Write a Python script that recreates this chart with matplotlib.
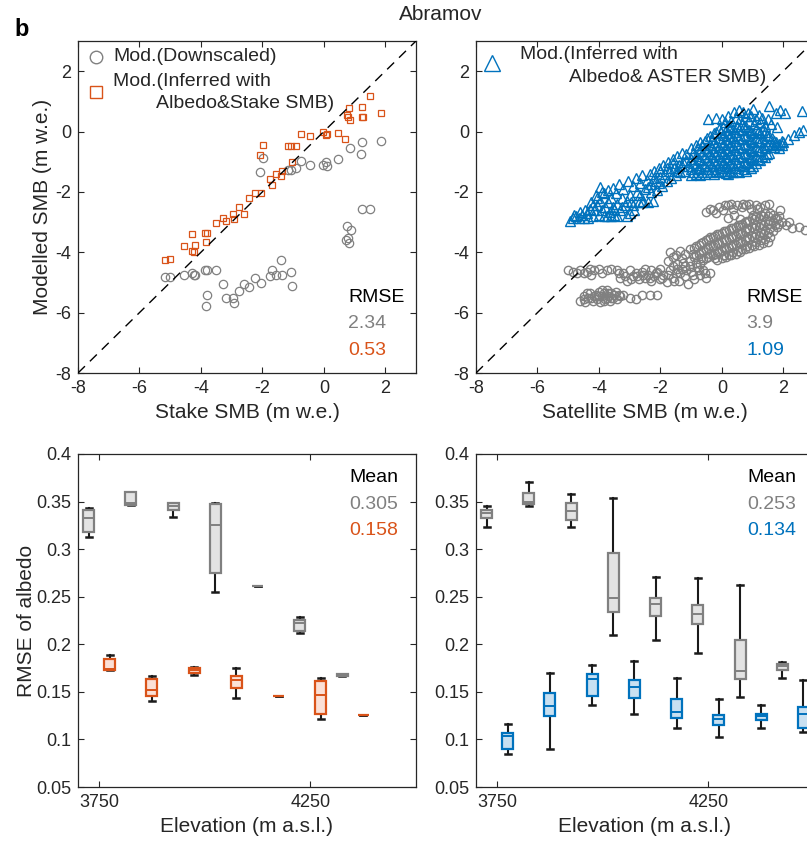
import numpy as np
import matplotlib.pyplot as plt
from matplotlib.ticker import FuncFormatter

plt.rcParams['font.family'] = ['Liberation Sans', 'DejaVu Sans']
plt.rcParams['axes.unicode_minus'] = False

GRAY = '#808080'
ORANGE = '#D95319'
BLUE = '#0072BD'
INK = '#262626'

########################## Stake SMB vs modelled ##########################
stake_x_down = [-5.18, -5.02, -4.56, -4.28, -4.23, -4.20, -3.88, -3.79, -3.51, -3.79,
                -3.85, -3.27, -3.17, -2.96, -2.93, -2.75, -2.59, -2.44, -2.23, -2.04,
                -1.74, -1.68, -1.55, -1.39, -1.37, -1.08, -1.03, -2.09, -1.97, -1.17,
                -1.06, -0.90, -0.75, -0.46, -0.04, 0.07, 0.11, 0.47, 0.85, 1.23,
                1.21, 1.87, 0.74, 0.80, 0.89, 0.71, 0.82, 1.23, 1.51]
stake_y_down = [-4.81, -4.81, -4.75, -4.70, -4.75, -4.76, -4.59, -4.59, -4.59, -5.41,
                -5.77, -5.05, -5.51, -5.51, -5.68, -5.27, -5.05, -5.14, -4.84, -5.02,
                -4.78, -4.58, -4.75, -4.26, -4.75, -4.65, -5.11, -1.35, -0.88, -1.26,
                -1.26, -1.21, -0.96, -1.10, -1.10, -1.02, -1.13, -0.90, -0.53, -0.36,
                -0.74, -0.30, -3.13, -3.52, -3.27, -3.59, -3.68, -2.55, -2.58]
stake_x_inf = [-5.18, -5.02, -4.56, -4.28, -4.28, -4.23, -4.20, -3.88, -3.79, -3.85,
               -3.51, -3.27, -3.17, -2.96, -2.93, -2.75, -2.59, -2.44, -2.23, -2.04,
               -2.09, -1.97, -1.74, -1.68, -1.55, -1.39, -1.37, -1.17, -1.06, -0.90,
               -1.03, -0.75, -0.46, -0.04, 0.07, 0.11, 0.47, 0.69, 0.74, 0.80,
               0.83, 0.86, 1.23, 1.23, 1.29, 1.51, 1.87]
stake_y_inf = [-4.26, -4.23, -3.79, -3.38, -3.96, -3.99, -3.77, -3.37, -3.37, -3.66,
               -3.03, -2.88, -2.97, -2.73, -2.89, -2.49, -2.73, -2.21, -2.05, -2.03,
               -0.77, -0.44, -1.57, -1.78, -1.40, -1.46, -1.30, -0.49, -0.49, -0.49,
               -1.01, -0.08, -0.16, -0.01, -0.11, -0.08, -0.05, -0.25, 0.55, 0.47,
               0.77, 0.38, 0.82, 0.47, 0.49, 1.18, 0.60]

######################## Satellite SMB vs modelled ########################
sat_down = [
    # lowest group
    (-4.6, -5.6), (-4.5, -5.45), (-4.45, -5.65), (-4.35, -5.5), (-4.3, -5.35), (-4.2, -5.6),
    (-4.15, -5.45), (-4.05, -5.55), (-4.0, -5.3), (-3.95, -5.65), (-3.9, -5.45), (-3.85, -5.35),
    (-3.8, -5.55), (-3.75, -5.25), (-3.7, -5.45), (-3.65, -5.6), (-3.6, -5.35), (-3.55, -5.5),
    (-3.5, -5.4), (-3.4, -5.55), (-3.3, -5.45), (-3.2, -5.4), (-3.0, -5.5), (-2.8, -5.55),
    (-2.6, -5.4), (-2.35, -5.4), (-2.1, -5.4), (-3.45, -5.3), (-3.85, -5.6), (-4.25, -5.5),
    (-4.4, -5.35), (-4.1, -5.4), (-3.9, -5.25), (-3.75, -5.5), (-3.6, -5.5), (-3.35, -5.4),
    (-4.0, -5.45), (-4.5, -5.55), (-3.7, -5.35),
    # left band
    (-5.0, -4.6), (-4.85, -4.65), (-4.7, -4.7), (-4.6, -4.6), (-4.5, -4.7), (-4.4, -4.65),
    (-4.25, -4.75), (-4.15, -4.6), (-4.0, -4.55), (-3.9, -4.7), (-3.75, -4.6), (-3.6, -4.55),
    (-4.3, -4.55),
    # middle band
    (-3.4, -4.6), (-3.3, -4.85), (-3.2, -4.7), (-3.1, -4.95), (-3.0, -4.6), (-2.9, -4.8),
    (-2.8, -4.7), (-2.7, -4.9), (-2.6, -4.65), (-2.5, -4.85), (-2.4, -4.75), (-2.3, -4.95),
    (-2.2, -4.8), (-2.1, -4.65), (-2.0, -4.9), (-1.9, -4.75), (-1.8, -5.0), (-1.7, -4.6),
    (-1.6, -4.85), (-1.5, -4.7), (-1.4, -4.95), (-1.3, -4.55), (-1.2, -4.8), (-1.1, -5.05),
    (-1.0, -4.65), (-0.9, -4.9), (-0.8, -4.5), (-0.7, -4.75), (-0.6, -4.6), (-0.5, -4.85),
    (-0.4, -4.7), (-1.75, -4.3), (-1.6, -4.15), (-1.45, -4.4), (-1.3, -4.2), (-1.2, -4.45),
    (-1.05, -4.3), (-0.95, -4.05), (-2.5, -4.55), (-2.3, -4.6), (-2.0, -4.55),
    (-3.35, -4.7), (-3.15, -4.8), (-2.95, -4.9), (-2.75, -4.8), (-2.55, -4.75), (-2.35, -4.85),
    (-2.15, -4.7), (-1.95, -4.85), (-1.75, -4.75), (-1.55, -4.95), (-1.35, -4.7), (-1.15, -4.6),
    (-0.95, -4.75), (-0.75, -4.6), (-0.55, -4.7), (-1.45, -4.55), (-1.05, -4.45), (-0.85, -4.35),
    (-0.7, -4.4), (-1.6, -4.45), (-1.25, -4.35),
    # main cloud
    (-1.7, -4.0), (-1.5, -4.1), (-1.35, -3.95), (-1.2, -4.05), (-1.05, -3.9), (-0.9, -3.85),
    (-0.9, -4.15), (-0.75, -3.75), (-0.75, -4.05), (-0.6, -3.65), (-0.6, -3.95), (-0.6, -4.25),
    (-0.45, -3.55), (-0.45, -3.85), (-0.45, -4.15), (-0.3, -3.5), (-0.3, -3.8), (-0.3, -4.1),
    (-0.15, -3.4), (-0.15, -3.7), (-0.15, -4.0), (-0.15, -4.25), (0.0, -3.35), (0.0, -3.65),
    (0.0, -3.95), (0.0, -4.2), (0.15, -3.3), (0.15, -3.6), (0.15, -3.9), (0.15, -4.15),
    (0.3, -3.2), (0.3, -3.5), (0.3, -3.8), (0.3, -4.1), (0.45, -3.15), (0.45, -3.45),
    (0.45, -3.75), (0.45, -4.05), (0.6, -3.1), (0.6, -3.4), (0.6, -3.7), (0.6, -4.0),
    (0.75, -3.0), (0.75, -3.3), (0.75, -3.6), (0.75, -3.9), (0.9, -2.95), (0.9, -3.25),
    (0.9, -3.55), (0.9, -3.85), (1.05, -2.9), (1.05, -3.2), (1.05, -3.5), (1.05, -3.8),
    (1.2, -2.85), (1.2, -3.15), (1.2, -3.45), (1.2, -3.75), (1.35, -2.8), (1.35, -3.1),
    (1.35, -3.4), (1.35, -3.7), (1.5, -2.8), (1.5, -3.05), (1.5, -3.35), (1.5, -3.65),
    (1.65, -2.75), (1.65, -3.0), (1.65, -3.3), (1.8, -2.9), (1.8, -3.15), (1.95, -3.0),
    (2.1, -3.1), (2.3, -3.2), (2.5, -3.15), (2.7, -3.25), (2.2, -3.0), (1.9, -2.6),
    (-0.83, -3.8), (-0.83, -4.1), (-0.68, -3.7), (-0.68, -4.0), (-0.68, -4.2), (-0.53, -3.6),
    (-0.53, -3.9), (-0.53, -4.2), (-0.38, -3.5), (-0.38, -3.75), (-0.38, -4.05), (-0.23, -3.45),
    (-0.23, -3.75), (-0.23, -4.05), (-0.23, -4.2), (-0.08, -3.4), (-0.08, -3.7), (-0.08, -4.0),
    (0.07, -3.3), (0.07, -3.55), (0.07, -3.85), (0.07, -4.1), (0.22, -3.25), (0.22, -3.55),
    (0.22, -3.85), (0.22, -4.1), (0.37, -3.2), (0.37, -3.45), (0.37, -3.75), (0.37, -4.0),
    (0.52, -3.1), (0.52, -3.35), (0.52, -3.65), (0.52, -3.95), (0.67, -3.05), (0.67, -3.35),
    (0.67, -3.65), (0.67, -3.9), (0.82, -2.95), (0.82, -3.2), (0.82, -3.5), (0.82, -3.8),
    (0.97, -2.85), (0.97, -3.15), (0.97, -3.45), (0.97, -3.75), (1.12, -2.8), (1.12, -3.1),
    (1.12, -3.4), (1.12, -3.65), (1.27, -2.75), (1.27, -3.05), (1.27, -3.35), (1.27, -3.6),
    (1.42, -2.7), (1.42, -2.95), (1.42, -3.25), (1.42, -3.55), (1.57, -2.7), (1.57, -2.95),
    (1.57, -3.2), (1.57, -3.5), (1.72, -2.85), (1.72, -3.1), (1.87, -2.8), (1.87, -3.05),
    # top strip
    (-0.5, -2.65), (-0.3, -2.6), (-0.1, -2.5), (0.05, -2.6), (0.2, -2.45), (0.35, -2.55),
    (0.5, -2.42), (0.65, -2.5), (0.8, -2.45), (0.95, -2.55), (1.1, -2.45), (1.25, -2.5),
    (1.55, -2.4), (0.6, -2.9), (1.0, -2.75), (0.4, -2.75), (0.2, -2.85),
    (-0.4, -2.55), (-0.2, -2.7), (0.1, -2.45), (0.3, -2.4), (0.7, -2.4), (0.9, -2.4),
    (1.15, -2.55), (1.4, -2.45)]

sat_inf = [
    # tail
    (-4.95, -2.97), (-4.85, -2.85), (-4.75, -2.8), (-4.65, -2.88), (-4.55, -2.75), (-4.5, -2.85),
    (-4.4, -2.7), (-4.35, -2.85), (-4.3, -2.55), (-4.25, -2.35), (-4.2, -2.8), (-4.15, -2.6),
    (-4.1, -2.1), (-4.05, -2.45), (-4.0, -2.75), (-3.95, -1.85), (-3.95, -2.3), (-3.9, -2.6),
    (-3.85, -2.05), (-3.8, -2.5), (-3.75, -2.8), (-3.7, -1.95), (-3.7, -2.35), (-3.65, -2.65),
    (-3.6, -2.2), (-3.55, -1.88), (-3.55, -2.5), (-3.5, -2.75), (-3.45, -2.05), (-3.4, -2.4),
    (-3.35, -1.75), (-3.3, -2.6), (-3.25, -2.2), (-3.2, -1.9), (-3.15, -2.45), (-3.1, -2.8),
    (-3.05, -1.65), (-3.0, -2.1), (-2.95, -2.35), (-2.9, -1.8), (-2.85, -2.6), (-2.8, -1.55),
    (-2.75, -2.0), (-2.7, -2.35), (-2.65, -1.7), (-2.6, -1.45), (-2.55, -2.3), (-2.5, -1.9),
    (-2.45, -1.6), (-2.4, -2.35), (-2.35, -1.4), (-2.3, -1.75), (-2.25, -2.3),
    (-4.8, -2.75), (-4.6, -2.65), (-4.45, -2.6), (-4.2, -2.45), (-4.05, -2.2), (-3.9, -2.0),
    (-3.85, -2.8), (-3.6, -2.8), (-3.4, -2.8), (-3.25, -2.5), (-3.0, -2.7), (-2.9, -2.45),
    (-2.65, -2.1), (-2.6, -2.35), (-3.5, -2.55), (-3.1, -2.3), (-2.4, -1.85), (-2.3, -2.0),
    (-2.05, -1.7),
    # middle
    (-2.2, -1.3), (-2.15, -1.65), (-2.1, -1.95), (-2.05, -1.2), (-2.0, -1.5), (-1.95, -1.8),
    (-1.9, -1.1), (-1.85, -1.4), (-1.8, -1.65), (-1.75, -1.0), (-1.7, -1.3), (-1.65, -1.55),
    (-1.6, -0.9), (-1.55, -1.2), (-1.5, -1.45), (-1.45, -0.8), (-1.4, -1.1), (-1.35, -1.35),
    (-1.3, -0.7), (-1.25, -1.0), (-1.2, -1.3), (-1.15, -0.75), (-1.1, -1.15),
    (-2.2, -1.55), (-2.0, -1.3), (-1.8, -1.2), (-1.6, -1.05), (-1.45, -1.3), (-1.3, -1.15),
    (-1.15, -0.95),
    # main cloud
    (-1.0, -0.55), (-1.0, -0.9), (-1.0, -1.25), (-1.0, -1.45), (-0.85, -0.45), (-0.85, -0.8),
    (-0.85, -1.1), (-0.85, -1.4), (-0.7, -0.35), (-0.7, -0.65), (-0.7, -0.95), (-0.7, -1.25),
    (-0.7, -1.45), (-0.55, -0.3), (-0.55, -0.55), (-0.55, -0.85), (-0.55, -1.15), (-0.55, -1.4),
    (-0.4, -0.15), (-0.4, -0.45), (-0.4, -0.75), (-0.4, -1.05), (-0.4, -1.35), (-0.25, -0.05),
    (-0.25, -0.35), (-0.25, -0.65), (-0.25, -0.95), (-0.25, -1.25), (-0.25, -1.4), (-0.1, 0.1),
    (-0.1, -0.2), (-0.1, -0.5), (-0.1, -0.8), (-0.1, -1.1), (-0.1, -1.35), (0.05, 0.15),
    (0.05, -0.1), (0.05, -0.4), (0.05, -0.7), (0.05, -1.0), (0.05, -1.3), (0.2, 0.2),
    (0.2, -0.05), (0.2, -0.35), (0.2, -0.6), (0.2, -0.9), (0.2, -1.2), (0.2, -1.4),
    (0.35, 0.1), (0.35, -0.2), (0.35, -0.5), (0.35, -0.8), (0.35, -1.1), (0.35, -1.35),
    (0.5, 0.2), (0.5, -0.1), (0.5, -0.4), (0.5, -0.7), (0.5, -1.0), (0.5, -1.3),
    (0.65, 0.05), (0.65, -0.25), (0.65, -0.55), (0.65, -0.85), (0.65, -1.15), (0.8, 0.15),
    (0.8, -0.15), (0.8, -0.45), (0.8, -0.75), (0.8, -1.05), (0.8, -1.3), (0.95, 0.0),
    (0.95, -0.3), (0.95, -0.6), (0.95, -0.9), (0.95, -1.2), (1.1, 0.1), (1.1, -0.2),
    (1.1, -0.5), (1.1, -0.8), (1.1, -1.05), (1.25, -0.05), (1.25, -0.35), (1.25, -0.65),
    (1.25, -0.95), (1.4, 0.0), (1.4, -0.3), (1.4, -0.55), (1.4, -0.85), (1.55, -0.15),
    (1.55, -0.4), (1.55, -0.7), (1.7, -0.3), (1.7, -0.5), (1.85, -0.4), (1.85, -0.55),
    (-0.93, -0.7), (-0.93, -1.05), (-0.93, -1.35), (-0.78, -0.55), (-0.78, -0.9), (-0.78, -1.2),
    (-0.63, -0.45), (-0.63, -0.75), (-0.63, -1.05), (-0.63, -1.35), (-0.48, -0.2), (-0.48, -0.65),
    (-0.48, -0.95), (-0.48, -1.25), (-0.33, -0.25), (-0.33, -0.55), (-0.33, -0.85), (-0.33, -1.15),
    (-0.18, 0.0), (-0.18, -0.45), (-0.18, -0.75), (-0.18, -1.05), (-0.18, -1.3), (-0.03, 0.0),
    (-0.03, -0.35), (-0.03, -0.65), (-0.03, -0.95), (-0.03, -1.2), (0.12, 0.05), (0.12, -0.25),
    (0.12, -0.55), (0.12, -0.85), (0.12, -1.15), (0.12, -1.38), (0.27, 0.15), (0.27, -0.15),
    (0.27, -0.45), (0.27, -0.75), (0.27, -1.05), (0.27, -1.3), (0.42, 0.0), (0.42, -0.3),
    (0.42, -0.6), (0.42, -0.9), (0.42, -1.2), (0.57, 0.1), (0.57, -0.2), (0.57, -0.5),
    (0.57, -0.8), (0.57, -1.1), (0.57, -1.35), (0.72, 0.2), (0.72, -0.1), (0.72, -0.4),
    (0.72, -0.7), (0.72, -1.0), (0.72, -1.25), (0.87, 0.05), (0.87, -0.25), (0.87, -0.55),
    (0.87, -0.85), (0.87, -1.15), (1.02, -0.05), (1.02, -0.35), (1.02, -0.65), (1.02, -0.95),
    (1.02, -1.15), (1.17, 0.0), (1.17, -0.3), (1.17, -0.6), (1.17, -0.9), (1.32, 0.05),
    (1.32, -0.2), (1.32, -0.5), (1.32, -0.8), (1.47, -0.1), (1.47, -0.45), (1.47, -0.75),
    (1.62, -0.2), (1.62, -0.45), (1.77, -0.35), (1.77, -0.45), (1.95, -0.45), (1.95, -0.3),
    # right strip
    (2.0, -0.35), (2.15, -0.25), (2.35, -0.1), (2.5, 0.0), (2.65, 0.05),
    # top strip
    (-0.45, 0.4), (-0.2, 0.45), (0.0, 0.4), (0.2, 0.5), (0.4, 0.65), (0.55, 0.7),
    (0.7, 0.65), (0.85, 0.6), (1.0, 0.75), (1.2, 0.55), (1.55, 0.85), (1.75, 0.6),
    (1.9, 0.7), (2.05, 0.62), (2.6, 0.68), (1.3, 0.45), (0.9, 0.35), (1.6, 0.25),
    (1.8, 0.15), (1.5, 0.4), (0.3, 0.35), (0.45, 0.45), (0.6, 0.4), (0.75, 0.5),
    (0.95, 0.5), (1.1, 0.4), (1.25, 0.3), (1.4, 0.2), (0.1, 0.3), (0.65, 0.25), (1.05, 0.25)]

############################ Albedo RMSE boxes ############################
# rows: lower whisker, q1, median, q3, upper whisker
elev_gray_l = [3725, 3825, 3925, 4025, 4125, 4225, 4325]
elev_col_l = [3775, 3875, 3975, 4075, 4175, 4275, 4375]
box_gray_l = [[0.313, 0.318, 0.333, 0.341, 0.343],
              [0.346, 0.346, 0.348, 0.360, 0.360],
              [0.334, 0.341, 0.345, 0.348, 0.349],
              [0.255, 0.275, 0.325, 0.347, 0.348],
              [0.261, 0.261, 0.261, 0.261, 0.261],
              [0.212, 0.214, 0.222, 0.226, 0.229],
              [0.167, 0.167, 0.168, 0.169, 0.169]]
box_orange_l = [[0.173, 0.173, 0.174, 0.185, 0.189],
                [0.140, 0.146, 0.152, 0.163, 0.167],
                [0.168, 0.170, 0.173, 0.175, 0.176],
                [0.144, 0.154, 0.162, 0.167, 0.175],
                [0.146, 0.146, 0.146, 0.146, 0.146],
                [0.121, 0.127, 0.147, 0.161, 0.165],
                [0.126, 0.126, 0.126, 0.126, 0.126]]

elev_gray_r = [3725, 3825, 3925, 4025, 4125, 4225, 4325, 4425]
elev_col_r = [3775, 3875, 3975, 4075, 4175, 4275, 4375, 4475]
box_gray_r = [[0.323, 0.333, 0.338, 0.341, 0.345],
              [0.345, 0.347, 0.350, 0.359, 0.371],
              [0.323, 0.331, 0.340, 0.349, 0.358],
              [0.210, 0.234, 0.249, 0.296, 0.354],
              [0.205, 0.230, 0.242, 0.249, 0.271],
              [0.191, 0.221, 0.232, 0.241, 0.270],
              [0.145, 0.163, 0.172, 0.204, 0.262],
              [0.165, 0.173, 0.177, 0.179, 0.181]]
box_blue_r = [[0.085, 0.090, 0.104, 0.107, 0.116],
              [0.090, 0.125, 0.135, 0.149, 0.170],
              [0.136, 0.146, 0.163, 0.169, 0.178],
              [0.127, 0.144, 0.155, 0.162, 0.182],
              [0.112, 0.123, 0.129, 0.142, 0.165],
              [0.103, 0.115, 0.121, 0.126, 0.142],
              [0.112, 0.120, 0.125, 0.127, 0.136],
              [0.108, 0.112, 0.127, 0.134, 0.162]]

rmse_l = ['2.34', '0.53']
rmse_r = ['3.9', '1.09']
mean_l = ['0.305', '0.158']
mean_r = ['0.253', '0.134']

#################################### Plot ####################################
W, H = 807, 849
fig = plt.figure(figsize=(W / 100, H / 100), dpi=100)


def rect(l, t, w, h):
    return [l / W, (H - t - h) / H, w / W, h / H]


ax1 = fig.add_axes(rect(78, 41, 338, 332))
ax2 = fig.add_axes(rect(476, 41, 338, 332))
ax3 = fig.add_axes(rect(78, 454, 338, 333))
ax4 = fig.add_axes(rect(476, 454, 338, 333))


def style(ax):
    ax.tick_params(direction='in', top=True, right=True, length=4, width=0.8,
                   colors=INK, labelsize=13, pad=5)
    for s in ax.spines.values():
        s.set_color(INK)
        s.set_linewidth(0.9)


g = lambda v: '%g' % v

for ax in (ax1, ax2):
    ax.plot([-8, 3], [-8, 3], '--', color='k', lw=1, dashes=(7, 5), zorder=5)
    ax.set_xlim(-8, 3)
    ax.set_ylim(-8, 3)
    ax.set_xticks([-8, -6, -4, -2, 0, 2])
    ax.set_yticks([-8, -6, -4, -2, 0, 2])
    style(ax)

ax1.plot(stake_x_down, stake_y_down, 'o', mfc='none', mec=GRAY, ms=6, mew=0.9)
ax1.plot(stake_x_inf, stake_y_inf, 's', mfc='none', mec=ORANGE, ms=5, mew=0.9)
ax2.plot([p[0] for p in sat_down], [p[1] for p in sat_down], 'o', mfc='none',
         mec=GRAY, ms=6, mew=1.0)
ax2.plot([p[0] for p in sat_inf], [p[1] for p in sat_inf], '^', mfc='none',
         mec=BLUE, ms=7, mew=1.0)

ax1.set_xlabel('Stake SMB (m w.e.)', fontsize=15, color=INK, labelpad=4)
ax2.set_xlabel('Satellite SMB (m w.e.)', fontsize=15, color=INK, labelpad=4)
ax1.set_ylabel('Modelled SMB (m w.e.)', fontsize=15, color=INK, labelpad=2)

# legends drawn by hand
ax1.plot([0.053], [0.952], 'o', transform=ax1.transAxes, mfc='none', mec=GRAY, ms=9, mew=1)
ax1.text(0.104, 0.952, 'Mod.(Downscaled)', transform=ax1.transAxes, fontsize=14,
         va='center', color=INK)
ax1.plot([0.053], [0.846], 's', transform=ax1.transAxes, mfc='none', mec=ORANGE, ms=9, mew=1)
ax1.text(0.104, 0.877, 'Mod.(Inferred with', transform=ax1.transAxes, fontsize=14,
         va='center', color=INK)
ax1.text(0.231, 0.813, 'Albedo&Stake SMB)', transform=ax1.transAxes, fontsize=14,
         va='center', color=INK)

ax2.plot([0.047], [0.934], '^', transform=ax2.transAxes, mfc='none', mec=BLUE, ms=11, mew=1)
ax2.text(0.130, 0.958, 'Mod.(Inferred with', transform=ax2.transAxes, fontsize=14,
         va='center', color=INK)
ax2.text(0.275, 0.889, 'Albedo& ASTER SMB)', transform=ax2.transAxes, fontsize=14,
         va='center', color=INK)

for ax, vals, col in ((ax1, rmse_l, ORANGE), (ax2, rmse_r, BLUE)):
    ax.text(0.799, 0.226, 'RMSE', transform=ax.transAxes, fontsize=14, va='center', color='k')
    ax.text(0.799, 0.148, vals[0], transform=ax.transAxes, fontsize=14, va='center', color=GRAY)
    ax.text(0.799, 0.069, vals[1], transform=ax.transAxes, fontsize=14, va='center', color=col)


def boxes(ax, pos, data, edge, fill):
    stats = [dict(whislo=d[0], q1=d[1], med=d[2], q3=d[3], whishi=d[4], fliers=[])
             for d in data]
    # boxes sit above the caps so that collapsed boxes show their own colour
    ax.bxp(stats, positions=pos, widths=26, capwidths=14, patch_artist=True,
           manage_ticks=False,
           boxprops=dict(facecolor=fill, edgecolor=edge, linewidth=1.6, zorder=3),
           medianprops=dict(color=edge, linewidth=1.4, zorder=4),
           whiskerprops=dict(color='#1a1a1a', linewidth=1.5, zorder=2),
           capprops=dict(color='#1a1a1a', linewidth=1.8, zorder=2))


boxes(ax3, elev_gray_l, box_gray_l, GRAY, '#e3e3e3')
boxes(ax3, elev_col_l, box_orange_l, ORANGE, '#fbe0d6')
boxes(ax4, elev_gray_r, box_gray_r, GRAY, '#e3e3e3')
boxes(ax4, elev_col_r, box_blue_r, BLUE, '#c8e0f1')

for ax, vals, col in ((ax3, mean_l, ORANGE), (ax4, mean_r, BLUE)):
    ax.set_xlim(3700, 4500)
    ax.set_ylim(0.05, 0.4)
    ax.set_xticks([3750, 4250])
    ax.set_yticks(np.arange(0.05, 0.401, 0.05))
    ax.yaxis.set_major_formatter(FuncFormatter(lambda v, p: g(round(v, 3))))
    style(ax)
    ax.set_xlabel('Elevation (m a.s.l.)', fontsize=15, color=INK, labelpad=4)
    ax.text(0.802, 0.928, 'Mean', transform=ax.transAxes, fontsize=14, va='center', color='k')
    ax.text(0.802, 0.847, vals[0], transform=ax.transAxes, fontsize=14, va='center', color=GRAY)
    ax.text(0.802, 0.769, vals[1], transform=ax.transAxes, fontsize=14, va='center', color=col)

ax3.set_ylabel('RMSE of albedo', fontsize=15, color=INK, labelpad=0)

fig.text(441 / W, 1 - 15 / H, 'Abramov', fontsize=15, ha='center', va='center', color=INK)
fig.text(22 / W, 1 - 30 / H, 'b', fontsize=17, fontweight='bold', ha='center', va='center')

fig.savefig('out.png', dpi=100)
